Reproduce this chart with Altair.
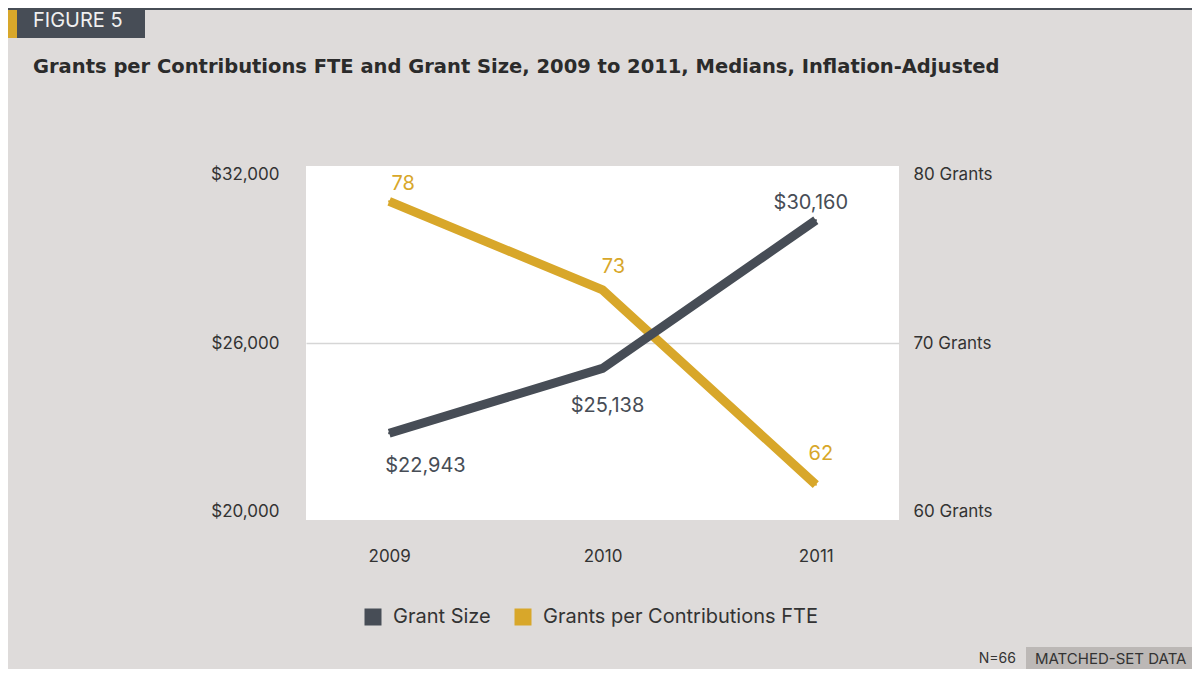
import altair as alt
import pandas as pd

# ---------------- data ----------------
years = ["2009", "2010", "2011"]
grant_size = [22943, 25138, 30160]
grants_per_fte = [78, 73, 62]
series_names = ["Grant Size", "Grants per Contributions FTE"]
left_ticks = [20000, 26000, 32000]
right_ticks = [60, 70, 80]

title_text = "Grants per Contributions FTE and Grant Size, 2009 to 2011, Medians, Inflation-Adjusted"
badge_text = "FIGURE 5"
n_text = "N=66"
tag_text = "MATCHED-SET DATA"

df = pd.DataFrame({"year": years, "grant_size": grant_size, "grants": grants_per_fte})

# ---------------- styles ----------------
DARK = "#474d56"
GOLD = "#d8a72a"
BG = "#dedbda"
TEXT = "#333333"
FONT = "Inter"

# label offsets (dx, dy, align) per year
dark_label_style = [(-4, 33, "left"), (5, 38, "center"), (-5, -17, "center")]
gold_label_style = [(14, -17, "center"), (11, -23, "center"), (5, -31, "center")]

x_enc = alt.X(
    "year:O",
    scale=alt.Scale(type="point", padding=0.39),
    axis=alt.Axis(title=None, labelAngle=0, labelPadding=28, labelFontSize=17, tickSize=0),
)

legend = alt.Legend(
    orient="none", legendX=57, legendY=441, direction="horizontal", title=None,
    symbolType="square", symbolSize=289, symbolStrokeWidth=0, labelFontSize=20,
    labelOffset=10, columnPadding=22, padding=0, labelFont=FONT, labelColor=TEXT,
    labelLimit=0,
)
color_scale = alt.Scale(domain=series_names, range=[DARK, GOLD])

# ---------------- gold series (right axis) ----------------
y_gold = alt.Y(
    "grants:Q",
    scale=alt.Scale(domain=[60, 80], nice=False, zero=False),
    axis=alt.Axis(orient="right", values=right_ticks, labelExpr="datum.value + ' Grants'",
                  title=None, labelFlush=True, labelPadding=14, labelFontSize=17, tickSize=0,
                  grid=False),
)
gold_base = alt.Chart(df).encode(x=x_enc, y=y_gold)
gold_pts = gold_base.transform_calculate(series="'" + series_names[1] + "'").mark_point(
    shape="square", filled=True, size=4, opacity=1
).encode(color=alt.Color("series:N", scale=color_scale, legend=legend))
gold_line = gold_base.mark_line(color=GOLD, strokeWidth=9, strokeCap="butt")
gold_labels = []
for yr, (dx, dy, al) in zip(years, gold_label_style):
    gold_labels.append(
        gold_base.transform_filter(alt.datum.year == yr).mark_text(
            dx=dx, dy=dy, align=al, baseline="middle", fontSize=20, font=FONT, color=GOLD
        ).encode(text=alt.Text("grants:Q", format="d"))
    )
gold_layer = alt.layer(gold_pts, gold_line, *gold_labels)

# ---------------- dark series (left axis) ----------------
y_dark = alt.Y(
    "grant_size:Q",
    scale=alt.Scale(domain=[20000, 32000], nice=False, zero=False),
    axis=alt.Axis(orient="left", values=left_ticks, format="$,d", title=None, labelFlush=True,
                  labelPadding=27, labelFontSize=17, tickSize=0, grid=True,
                  gridColor="#d6d6d6", gridWidth=1.5,
                  gridOpacity={"condition": {"test": "datum.value == 26000", "value": 1}, "value": 0}),
)
dark_base = alt.Chart(df).encode(x=x_enc, y=y_dark)
dark_pts = dark_base.transform_calculate(series="'" + series_names[0] + "'").mark_point(
    shape="square", filled=True, size=4, opacity=1
).encode(color=alt.Color("series:N", scale=color_scale, legend=legend))
dark_line = dark_base.mark_line(color=DARK, strokeWidth=9, strokeCap="butt")
dark_labels = []
for yr, (dx, dy, al) in zip(years, dark_label_style):
    dark_labels.append(
        dark_base.transform_filter(alt.datum.year == yr).mark_text(
            dx=dx, dy=dy, align=al, baseline="middle", fontSize=20, font=FONT, color=DARK
        ).encode(text=alt.Text("grant_size:Q", format="$,d"))
    )
dark_layer = alt.layer(dark_pts, dark_line, *dark_labels)

plot = alt.layer(gold_layer, dark_layer).resolve_scale(y="independent")


# ---------------- decorations ----------------
def deco_text(txt, x, y, size, color, weight="normal", align="left", font=FONT):
    return alt.Chart(alt.Data(values=[{}])).mark_text(
        text=txt, align=align, baseline="middle", fontSize=size, font=font,
        fontWeight=weight, color=color
    ).encode(x=alt.value(x), y=alt.value(y))


def deco_rect(x, x2, y, y2, color):
    return alt.Chart(alt.Data(values=[{}])).mark_rect(color=color).encode(
        x=alt.value(x), x2=alt.value(x2), y=alt.value(y), y2=alt.value(y2)
    )


decor = [
    deco_rect(-298, 886, -158, -156, DARK),
    deco_rect(-298, -289, -156, -128, GOLD),
    deco_rect(-289, -161, -156, -128, DARK),
    deco_text(badge_text, -273, -145, 20, "#f0f0f0"),
    deco_text(title_text, -273, -99, 19.5, "#2b2b2b", weight="bold", font="DejaVu Sans"),
    deco_text(n_text, 710, 493, 14, TEXT, align="right"),
    deco_rect(720, 886, 481, 503, "#bcb8b6"),
    deco_text(tag_text, 729, 493, 15, TEXT),
]

chart = alt.layer(plot, *decor).properties(
    width=593, height=354,
    padding={"left": 298, "top": 158, "right": 293, "bottom": 149},
    autosize=alt.AutoSizeParams(type="none"),
    background=BG,
).configure_view(fill="white", strokeWidth=0).configure_axis(
    labelFont=FONT, labelColor=TEXT, domain=False, ticks=False
)

chart.save("out.html", embed_options={"renderer": "svg", "actions": False})
